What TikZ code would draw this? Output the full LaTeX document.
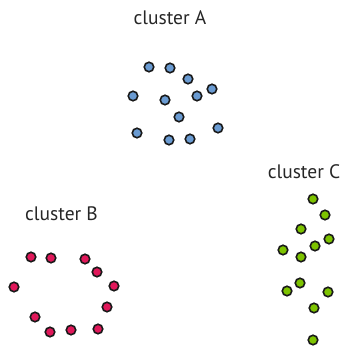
\documentclass[tikz,border=0pt]{standalone}
\usepackage{fontspec}
\setmainfont{PT Sans}
\definecolor{cA}{HTML}{6A9BD2}
\definecolor{cB}{HTML}{E0185A}
\definecolor{cC}{HTML}{7DC300}
\tikzset{
  dot/.style={circle,draw=black!90,line width=1.6pt,minimum size=9.5pt,inner sep=0pt},
  lbl/.style={font=\fontsize{19.5}{22}\selectfont,text=black!85,inner sep=0pt}
}
\begin{document}
\begin{tikzpicture}[x=1pt,y=-1pt]
\useasboundingbox (0,0) rectangle (343,347);
\node[lbl] (la) at (170,18) {cluster A};
\node[lbl] (lb) at (61.5,213.5) {cluster B};
\node[lbl] (lc) at (304,172) {cluster C};
\foreach \x/\y [count=\i] in {149/67,170/68,188/79,212/89,197/96,133/96,165/100,179/117,137/133,218/128,169/140,190/139}
  \node[dot,fill=cA] (a\i) at (\x,\y) {};
\foreach \x/\y [count=\i] in {31/257,51/258,85/259,97/272,114/286,14/287,107/307,35/317,50/332,71/330,98/329}
  \node[dot,fill=cB] (b\i) at (\x,\y) {};
\foreach \x/\y [count=\i] in {313/199,325/215,301/229,329/239,315/246,283/250,301/257,300/283,287/291,328/292,314/308,313/340}
  \node[dot,fill=cC] (c\i) at (\x,\y) {};
\end{tikzpicture}
\end{document}
